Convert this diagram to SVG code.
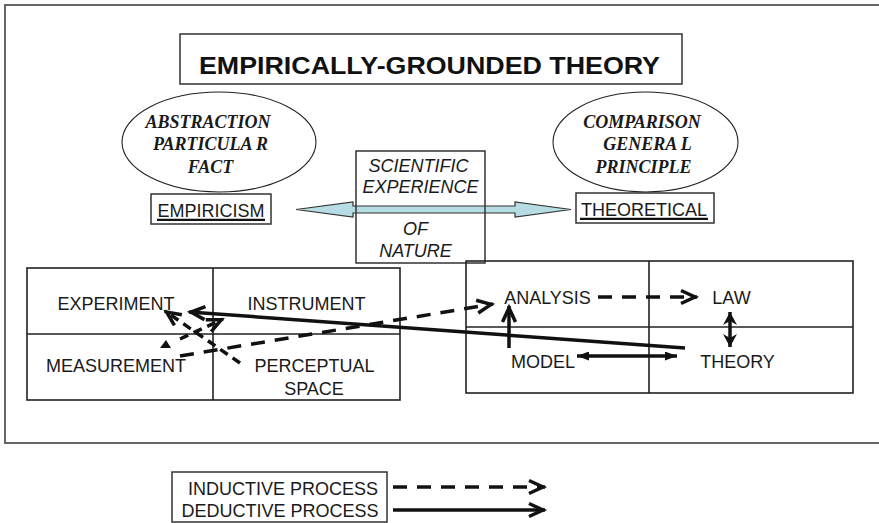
<svg xmlns="http://www.w3.org/2000/svg" width="879" height="523" viewBox="0 0 879 523">
<style>
.sans{font-family:"Liberation Sans",Arial,sans-serif;font-size:18px;fill:#1a1a1a;text-anchor:middle}
.ital{font-style:italic}
.serif{font-family:"Liberation Serif","Times New Roman",serif;font-size:18px;font-weight:bold;font-style:italic;fill:#1a1a1a;text-anchor:middle}
.box{fill:none;stroke:#333;stroke-width:1.5}
.cell{fill:none;stroke:#222;stroke-width:1.6}
.ell{fill:none;stroke:#222;stroke-width:1.1}
.ln{fill:none;stroke:#111;stroke-width:3.5}
.dash{stroke-dasharray:14 10}
.sdash{stroke-dasharray:9 6}
</style>
<defs>
<marker id="chev" viewBox="0 0 18 16" markerWidth="18" markerHeight="16" refX="18" refY="8" orient="auto" markerUnits="userSpaceOnUse" overflow="visible">
<path d="M2,1.5 L16,8 L2,14.5" fill="none" stroke="#111" stroke-width="3.5" stroke-dasharray="none"/>
</marker>
<marker id="tri" viewBox="0 0 12 9" markerWidth="12" markerHeight="9" refX="12" refY="4.5" orient="auto-start-reverse" markerUnits="userSpaceOnUse">
<path d="M0,0 L12,4.5 L0,9 Z" fill="#111"/>
</marker>
<marker id="triW" viewBox="0 0 13 14" markerWidth="13" markerHeight="14" refX="13" refY="7" orient="auto-start-reverse" markerUnits="userSpaceOnUse">
<path d="M0,0 L13,7 L0,14 L4,7 Z" fill="#111"/>
</marker>
</defs>
<rect width="879" height="523" fill="#fff"/>
<path d="M885,5 H5 V443 H885" fill="none" stroke="#666" stroke-width="2"/>

<g id="title">
<rect class="box" x="180" y="34" width="502" height="50"/>
<text x="429.5" y="74" font-family="Liberation Sans,Arial,sans-serif" font-size="24.5" font-weight="bold" fill="#111" text-anchor="middle" textLength="461" lengthAdjust="spacingAndGlyphs">EMPIRICALLY-GROUNDED THEORY</text>
</g>

<g id="abstraction">
<ellipse class="ell" cx="219" cy="142" rx="97" ry="50"/>
<text class="serif" x="208" y="128">ABSTRACTION</text>
<text class="serif" x="210.5" y="150">PARTICULA R</text>
<text class="serif" x="210.5" y="173">FACT</text>
</g>

<g id="comparison">
<ellipse class="ell" cx="645.5" cy="142" rx="92.5" ry="50"/>
<text class="serif" x="642" y="128">COMPARISON</text>
<text class="serif" x="647.5" y="150">GENERA L</text>
<text class="serif" x="643.5" y="173">PRINCIPLE</text>
</g>

<g id="empiricism">
<rect class="box" x="151" y="194" width="120" height="30"/>
<text class="sans" x="211" y="216.5">EMPIRICISM</text>
<line x1="157" y1="219.8" x2="265" y2="219.8" stroke="#111" stroke-width="2.2"/>
</g>

<g id="theoretical">
<rect class="box" x="576" y="193" width="138" height="30"/>
<text class="sans" x="644" y="215.5">THEORETICAL</text>
<line x1="580" y1="218.8" x2="708" y2="218.8" stroke="#111" stroke-width="2.2"/>
</g>

<g id="scientific-experience">
<rect x="356" y="151" width="129" height="112" fill="#fff"/>
<polygon points="296,209.5 353,202 353,206 515,206 515,202 571,209.5 515,217 515,213 353,213 353,217" fill="#b5dde3" stroke="#333" stroke-width="1.2"/>
<rect class="box" x="356" y="151" width="129" height="112"/>
<text class="sans ital" x="418.5" y="172">SCIENTIFIC</text>
<text class="sans ital" x="420.5" y="193">EXPERIENCE</text>
<text class="sans ital" x="415.5" y="235">OF</text>
<text class="sans ital" x="415.5" y="257">NATURE</text>
</g>

<g id="empirical-table">
<rect class="cell" x="27" y="268" width="373" height="132"/>
<line class="cell" x1="213" y1="268" x2="213" y2="400"/>
<line class="cell" x1="27" y1="334" x2="400" y2="334"/>
<text class="sans" x="116" y="310">EXPERIMENT</text>
<text class="sans" x="306.5" y="310">INSTRUMENT</text>
<text class="sans" x="116" y="372">MEASUREMENT</text>
<text class="sans" x="314.5" y="372">PERCEPTUAL</text>
<text class="sans" x="314" y="395">SPACE</text>
</g>

<g id="theory-table">
<rect class="cell" x="466" y="261" width="387" height="132"/>
<line class="cell" x1="649" y1="261" x2="649" y2="393"/>
<line class="cell" x1="466" y1="327" x2="853" y2="327"/>
<text class="sans" x="547.5" y="304">ANALYSIS</text>
<text class="sans" x="731.5" y="304">LAW</text>
<text class="sans" x="543" y="368">MODEL</text>
<text class="sans" x="737.5" y="368">THEORY</text>
</g>

<g id="connectors">
<line class="ln" x1="685" y1="348" x2="189" y2="312" marker-end="url(#chev)"/>
<line class="ln dash" x1="180" y1="356" x2="493" y2="304" marker-end="url(#chev)"/>
<line class="ln sdash" x1="180" y1="339" x2="223" y2="319" marker-end="url(#chev)"/>
<polygon points="160,348 171,348 166,340" fill="#111"/>
<line class="ln sdash" x1="240" y1="363" x2="165" y2="311" marker-end="url(#chev)"/>
<line class="ln dash" x1="598" y1="297" x2="697" y2="297" marker-end="url(#chev)"/>
<line class="ln" x1="509" y1="348" x2="509" y2="306" marker-end="url(#chev)"/>
<line class="ln" x1="577" y1="356" x2="677" y2="356" stroke-width="3.2" marker-start="url(#tri)" marker-end="url(#tri)"/>
<line class="ln" x1="730" y1="312" x2="730" y2="347" stroke-width="3.2" marker-start="url(#triW)" marker-end="url(#triW)"/>
</g>

<g id="legend">
<rect class="box" x="172" y="472" width="215" height="50"/>
<text class="sans" x="283" y="495">INDUCTIVE PROCESS</text>
<text class="sans" x="280" y="517">DEDUCTIVE PROCESS</text>
<line class="ln dash" x1="393" y1="487" x2="545" y2="487" stroke-width="4" marker-end="url(#chev)"/>
<line class="ln" x1="393" y1="510" x2="545" y2="510" stroke-width="4" marker-end="url(#chev)"/>
</g>
</svg>
